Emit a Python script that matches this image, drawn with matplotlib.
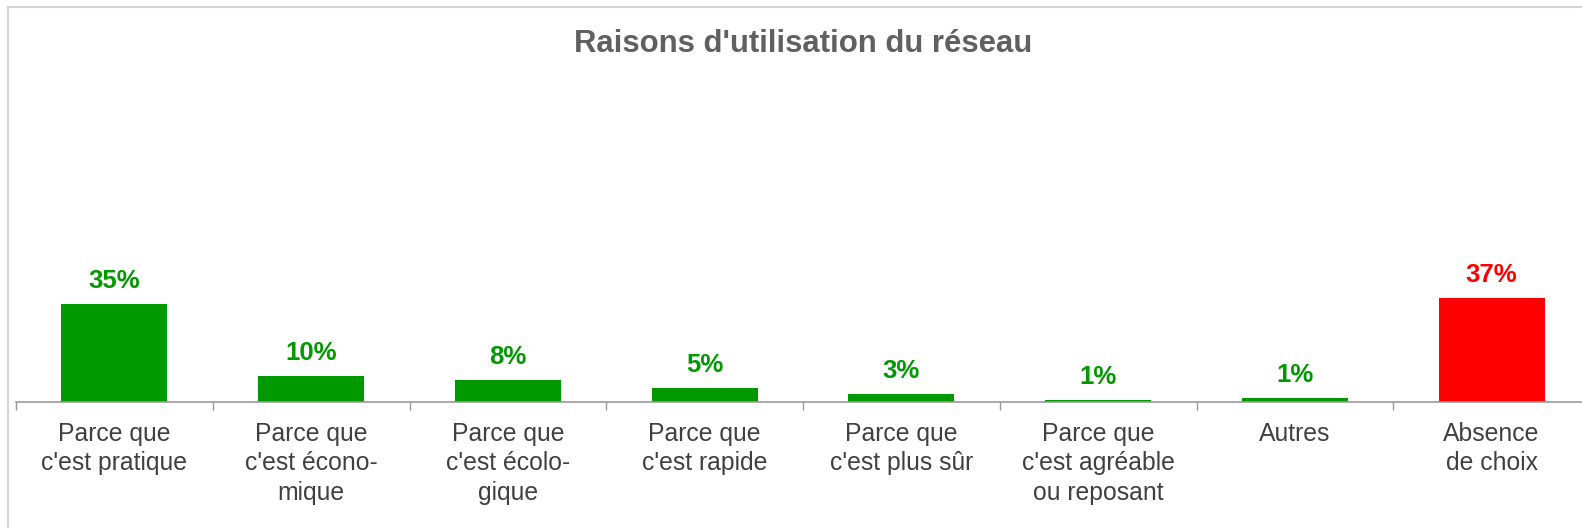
import numpy as np
import matplotlib.pyplot as plt
from matplotlib.patches import Rectangle

plt.rcParams['font.family'] = ['Liberation Sans', 'DejaVu Sans']

categories = ["Parce que\nc'est pratique", "Parce que\nc'est écono-\nmique",
              "Parce que\nc'est écolo-\ngique", "Parce que\nc'est rapide",
              "Parce que\nc'est plus sûr", "Parce que\nc'est agréable\nou reposant",
              "Autres", "Absence\nde choix"]
values = [35, 9.2, 7.8, 5.0, 2.6, 0.4, 1.1, 37]
labels = ["35%", "10%", "8%", "5%", "3%", "1%", "1%", "37%"]
colors = ["#009900"] * 7 + ["#ff0000"]

W, H = 1582, 528
fig = plt.figure(figsize=(W / 100, H / 100), dpi=100)

# light frame, cut off at right and bottom
fig.patches.append(Rectangle((8 / W, -0.1), 1.2, 1 - 7 / H + 0.1, transform=fig.transFigure,
                             fill=False, edgecolor="#d4d4d4", linewidth=1.5))

ax = fig.add_axes([16 / W, 126.5 / H, 1574 / W, 278.5 / H])
x = np.arange(len(values))
ax.bar(x, values, width=0.54, color=colors)

for xi, v, lab, c in zip(x, values, labels, colors):
    ax.annotate(lab, (xi, v), xytext=(0, 11.5), textcoords="offset points",
                ha="center", va="baseline", fontsize=18.5, fontweight="bold", color=c)

ax.set_xlim(-0.5, len(values) - 0.5)
ax.set_ylim(0, 100)
ax.set_xticks(x)
ax.set_xticklabels(categories, fontsize=17.8, color="#404040", linespacing=1.3)
ax.set_xticks(np.arange(len(values)) - 0.5, minor=True)
ax.tick_params(axis="x", which="major", length=0, pad=14.5)
ax.tick_params(axis="x", which="minor", length=6, color="#999999", width=1)
ax.set_yticks([])
for s in ["top", "right", "left"]:
    ax.spines[s].set_visible(False)
ax.spines["bottom"].set_color("#999999")
ax.spines["bottom"].set_linewidth(1.2)

fig.text(803 / W, 1 - 44 / H, "Raisons d'utilisation du réseau", ha="center", va="center",
         fontsize=22.4, fontweight="bold", color="#606060")

fig.savefig("out.png", dpi=100)
